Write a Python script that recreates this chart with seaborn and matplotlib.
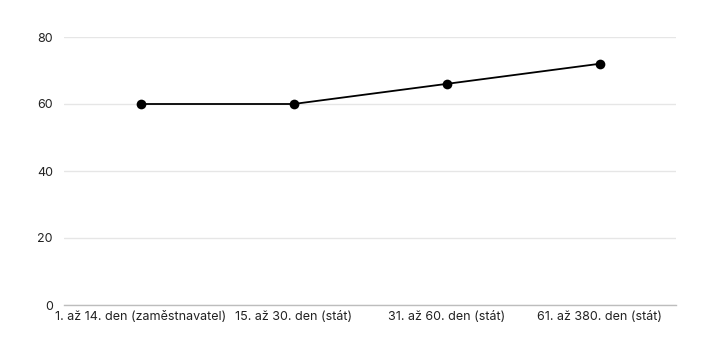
import matplotlib
matplotlib.use("Agg")
import matplotlib.pyplot as plt
import seaborn as sns
import pandas as pd

categories = ["1. až 14. den (zaměstnavatel)", "15. až 30. den (stát)",
              "31. až 60. den (stát)", "61. až 380. den (stát)"]
values = [60, 60, 66, 72]
yticks = [0, 20, 40, 60, 80]

sns.set_theme(style="white")
plt.rcParams['font.family'] = ['Inter', 'DejaVu Sans']

df = pd.DataFrame({"cat": categories, "val": values})
fig = plt.figure(figsize=(7.2, 3.6), dpi=100)
ax = fig.add_axes([64/720, 1-305/360, 612/720, 268/360])
sns.lineplot(data=df, x="cat", y="val", ax=ax, color="black", linewidth=1.3,
             marker="o", markersize=7, markeredgewidth=0, sort=False)
ax.set_xlim(-0.5, 3.5)
ax.set_ylim(0, 80)
ax.set_yticks(yticks)
ax.set_xlabel("")
ax.set_ylabel("")
ax.grid(axis="y", color="#e6e6e6", linewidth=1)
ax.set_axisbelow(True)
for s in ["top", "right", "left"]:
    ax.spines[s].set_visible(False)
ax.spines["bottom"].set_color("#bdbdbd")
ax.spines["bottom"].set_linewidth(1)
ax.tick_params(axis="both", length=0, labelsize=9, colors="#222222")
ax.tick_params(axis="y", pad=8)
ax.tick_params(axis="x", pad=4)
fig.savefig("out.png", dpi=100)
